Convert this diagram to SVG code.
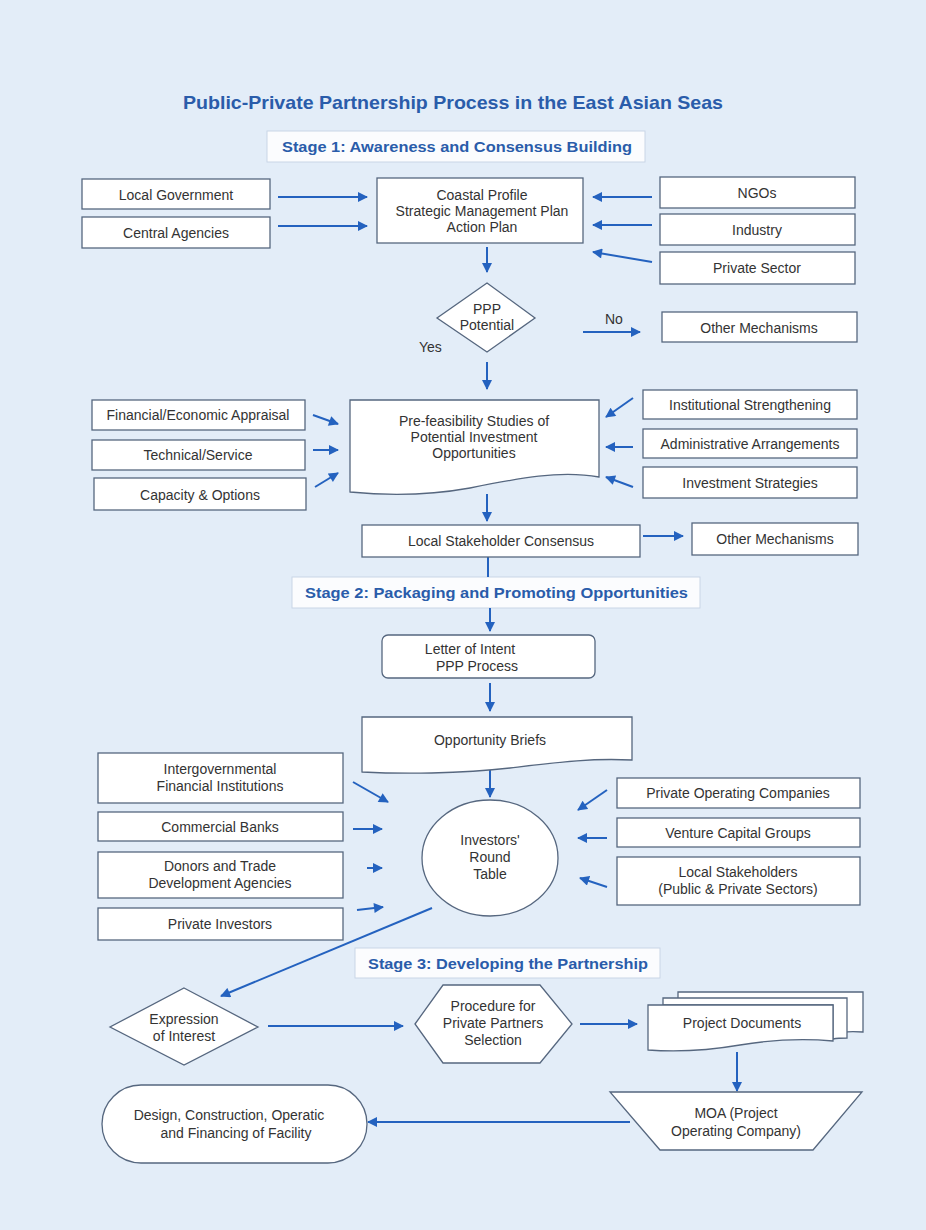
<svg xmlns="http://www.w3.org/2000/svg" width="926" height="1230" viewBox="0 0 926 1230">
<defs>
<style>
.bg{fill:#e3edf8}
.box{fill:#ffffff;stroke:#56677f;stroke-width:1.3}
.stage{fill:#fbfcfe;stroke:#c9d6e6;stroke-width:1}
.t{font-family:"Liberation Sans",Arial,sans-serif;font-size:14px;fill:#333333;text-anchor:middle}
.st{font-family:"Liberation Sans",Arial,sans-serif;font-size:15.5px;font-weight:bold;fill:#2a5caa}
.title{font-family:"Liberation Sans",Arial,sans-serif;font-size:18.5px;font-weight:bold;fill:#2a5caa}
.c{fill:none;stroke:#2462bf;stroke-width:2}
.lbl{font-family:"Liberation Sans",Arial,sans-serif;font-size:14px;fill:#333333}
</style>
<marker id="ah" viewBox="0 0 10 10" refX="9" refY="5" markerWidth="11" markerHeight="10" markerUnits="userSpaceOnUse" orient="auto">
<path d="M0,0 L10,5 L0,10 Z" fill="#2462bf"/>
</marker>
</defs>
<rect class="bg" x="0" y="0" width="926" height="1230"/>

<text class="title" x="183" y="109" textLength="540" lengthAdjust="spacingAndGlyphs">Public-Private Partnership Process in the East Asian Seas</text>

<g id="stage1"><rect class="stage" x="267" y="131" width="378" height="31"/><text class="st" x="282" y="152" textLength="350" lengthAdjust="spacingAndGlyphs">Stage 1:  Awareness and Consensus Building</text></g>
<g id="stage2"><rect class="stage" x="292" y="577" width="408" height="31"/><text class="st" x="305" y="598" textLength="383" lengthAdjust="spacingAndGlyphs">Stage 2:  Packaging and Promoting Opportunities</text></g>
<g id="stage3"><rect class="stage" x="355" y="948" width="305" height="30"/><text class="st" x="368" y="969" textLength="280" lengthAdjust="spacingAndGlyphs">Stage 3:  Developing the Partnership</text></g>

<g id="connectors">
<line class="c" x1="278" y1="197" x2="367" y2="197" marker-end="url(#ah)"/>
<line class="c" x1="278" y1="226" x2="367" y2="226" marker-end="url(#ah)"/>
<line class="c" x1="652" y1="197" x2="593" y2="197" marker-end="url(#ah)"/>
<line class="c" x1="652" y1="225" x2="593" y2="225" marker-end="url(#ah)"/>
<line class="c" x1="652" y1="262" x2="593" y2="252" marker-end="url(#ah)"/>
<line class="c" x1="487" y1="247" x2="487" y2="272" marker-end="url(#ah)"/>
<line class="c" x1="583" y1="332" x2="640" y2="332" marker-end="url(#ah)"/>
<line class="c" x1="487" y1="362" x2="487" y2="389" marker-end="url(#ah)"/>
<line class="c" x1="313" y1="415" x2="338" y2="424" marker-end="url(#ah)"/>
<line class="c" x1="313" y1="450" x2="338" y2="450" marker-end="url(#ah)"/>
<line class="c" x1="315" y1="487" x2="338" y2="473" marker-end="url(#ah)"/>
<line class="c" x1="633" y1="398" x2="606" y2="417" marker-end="url(#ah)"/>
<line class="c" x1="633" y1="447" x2="606" y2="447" marker-end="url(#ah)"/>
<line class="c" x1="633" y1="487" x2="606" y2="477" marker-end="url(#ah)"/>
<line class="c" x1="487" y1="494" x2="487" y2="521" marker-end="url(#ah)"/>
<line class="c" x1="643" y1="536" x2="683" y2="536" marker-end="url(#ah)"/>
<line class="c" x1="488" y1="557" x2="488" y2="577"/>
<line class="c" x1="490" y1="608" x2="490" y2="631" marker-end="url(#ah)"/>
<line class="c" x1="490" y1="683" x2="490" y2="711" marker-end="url(#ah)"/>
<line class="c" x1="490" y1="767" x2="490" y2="797" marker-end="url(#ah)"/>
<line class="c" x1="353" y1="782" x2="388" y2="802" marker-end="url(#ah)"/>
<line class="c" x1="353" y1="829" x2="382" y2="829" marker-end="url(#ah)"/>
<line class="c" x1="367" y1="868" x2="382" y2="868" marker-end="url(#ah)"/>
<line class="c" x1="357" y1="910" x2="383" y2="907" marker-end="url(#ah)"/>
<line class="c" x1="607" y1="790" x2="578" y2="810" marker-end="url(#ah)"/>
<line class="c" x1="607" y1="838" x2="578" y2="838" marker-end="url(#ah)"/>
<line class="c" x1="607" y1="887" x2="580" y2="878" marker-end="url(#ah)"/>
<line class="c" x1="432" y1="908" x2="221" y2="996" marker-end="url(#ah)"/>
<line class="c" x1="268" y1="1026" x2="403" y2="1026" marker-end="url(#ah)"/>
<line class="c" x1="580" y1="1024" x2="637" y2="1024" marker-end="url(#ah)"/>
<line class="c" x1="737" y1="1052" x2="737" y2="1091" marker-end="url(#ah)"/>
<line class="c" x1="630" y1="1122" x2="368" y2="1122" stroke-width="2.5" marker-end="url(#ah)"/>
</g>
<text class="lbl" x="605" y="324">No</text>
<text class="lbl" x="419" y="352">Yes</text>

<g id="local-government"><rect class="box" x="82" y="179" width="188" height="30"/><text class="t" x="176" y="200">Local Government</text></g>
<g id="central-agencies"><rect class="box" x="82" y="217" width="188" height="31"/><text class="t" x="176" y="238">Central Agencies</text></g>
<g id="coastal-profile"><rect class="box" x="377" y="178" width="206" height="65"/>
<text class="t" x="482" y="200">Coastal Profile</text><text class="t" x="482" y="216">Strategic Management Plan</text><text class="t" x="482" y="232">Action Plan</text></g>
<g id="ngos"><rect class="box" x="660" y="177" width="195" height="31"/><text class="t" x="757" y="198">NGOs</text></g>
<g id="industry"><rect class="box" x="660" y="214" width="195" height="31"/><text class="t" x="757" y="235">Industry</text></g>
<g id="private-sector"><rect class="box" x="660" y="252" width="195" height="32"/><text class="t" x="757" y="273">Private Sector</text></g>

<g id="ppp-potential"><polygon class="box" points="487,283 535,318 487,352 437,318"/>
<text class="t" x="487" y="314">PPP</text><text class="t" x="487" y="330">Potential</text></g>
<g id="other-mechanisms-1"><rect class="box" x="662" y="312" width="195" height="30"/><text class="t" x="759" y="333">Other Mechanisms</text></g>

<g id="financial-appraisal"><rect class="box" x="92" y="400" width="213" height="30"/><text class="t" x="198" y="420">Financial/Economic Appraisal</text></g>
<g id="technical-service"><rect class="box" x="92" y="440" width="213" height="30"/><text class="t" x="198" y="460">Technical/Service</text></g>
<g id="capacity-options"><rect class="box" x="94" y="478" width="212" height="32"/><text class="t" x="200" y="500">Capacity &amp; Options</text></g>
<g id="pre-feasibility"><path class="box" d="M350,400 H599 V477 C560,470 520,478 470,488 C420,497 380,495 350,492 Z"/>
<text class="t" x="474" y="426">Pre-feasibility Studies of</text><text class="t" x="474" y="442">Potential Investment</text><text class="t" x="474" y="458">Opportunities</text></g>
<g id="institutional-strengthening"><rect class="box" x="643" y="390" width="214" height="29"/><text class="t" x="750" y="410">Institutional Strengthening</text></g>
<g id="administrative-arrangements"><rect class="box" x="643" y="429" width="214" height="29"/><text class="t" x="750" y="449">Administrative Arrangements</text></g>
<g id="investment-strategies"><rect class="box" x="643" y="467" width="214" height="31"/><text class="t" x="750" y="488">Investment Strategies</text></g>

<g id="local-stakeholder-consensus"><rect class="box" x="362" y="525" width="278" height="32"/><text class="t" x="501" y="546">Local Stakeholder Consensus</text></g>
<g id="other-mechanisms-2"><rect class="box" x="692" y="523" width="166" height="32"/><text class="t" x="775" y="544">Other Mechanisms</text></g>

<g id="letter-of-intent"><rect class="box" x="382" y="635" width="213" height="43" rx="6"/>
<text class="t" x="470" y="654">Letter of Intent</text><text class="t" x="477" y="671">PPP Process</text></g>
<g id="opportunity-briefs"><path class="box" d="M362,717 H632 V760 C590,758 560,762 510,768 C460,774 400,774 362,772 Z"/>
<text class="t" x="490" y="745">Opportunity Briefs</text></g>

<g id="ifi"><rect class="box" x="98" y="753" width="245" height="50"/><text class="t" x="220" y="774">Intergovernmental</text><text class="t" x="220" y="791">Financial Institutions</text></g>
<g id="commercial-banks"><rect class="box" x="98" y="812" width="245" height="29"/><text class="t" x="220" y="832">Commercial Banks</text></g>
<g id="donors"><rect class="box" x="98" y="852" width="245" height="46"/><text class="t" x="220" y="871">Donors and Trade</text><text class="t" x="220" y="888">Development Agencies</text></g>
<g id="private-investors"><rect class="box" x="98" y="908" width="245" height="32"/><text class="t" x="220" y="929">Private Investors</text></g>

<g id="investors-round-table"><ellipse class="box" cx="490" cy="858" rx="68" ry="58"/>
<text class="t" x="490" y="845">Investors'</text><text class="t" x="490" y="862">Round</text><text class="t" x="490" y="879">Table</text></g>

<g id="private-operating-companies"><rect class="box" x="617" y="778" width="243" height="30"/><text class="t" x="738" y="798">Private Operating Companies</text></g>
<g id="venture-capital-groups"><rect class="box" x="617" y="818" width="243" height="29"/><text class="t" x="738" y="838">Venture Capital Groups</text></g>
<g id="local-stakeholders"><rect class="box" x="617" y="857" width="243" height="48"/><text class="t" x="738" y="877">Local Stakeholders</text><text class="t" x="738" y="894">(Public &amp; Private Sectors)</text></g>

<g id="expression-of-interest"><polygon class="box" points="184,988 258,1027 184,1065 110,1027"/>
<text class="t" x="184" y="1024">Expression</text><text class="t" x="184" y="1041">of Interest</text></g>
<g id="procedure"><polygon class="box" points="415,1024 443,985 540,985 572,1024 540,1063 443,1063"/>
<text class="t" x="493" y="1011">Procedure for</text><text class="t" x="493" y="1028">Private Partners</text><text class="t" x="493" y="1045">Selection</text></g>
<g id="project-documents">
<path class="box" d="M678,992 H863 V1032 C850,1031 840,1032 833,1034 L833,1005 H678 Z"/>
<path class="box" d="M663,998 H847 V1038 C842,1038 838,1038 833,1039 L833,1005 H663 Z"/>
<path class="box" d="M648,1005 H833 V1041 C800,1038 770,1040 740,1045 C705,1051 675,1052 648,1050 Z"/>
<text class="t" x="742" y="1028">Project Documents</text></g>
<g id="moa"><polygon class="box" points="610,1092 862,1092 813,1150 660,1150"/>
<text class="t" x="736" y="1118">MOA (Project</text><text class="t" x="736" y="1136">Operating Company)</text></g>
<g id="design-construction"><rect class="box" x="102" y="1085" width="265" height="78" rx="39" ry="39"/>
<text class="t" x="229" y="1120">Design, Construction, Operatic</text><text class="t" x="236" y="1138">and Financing of Facility</text></g>
</svg>
